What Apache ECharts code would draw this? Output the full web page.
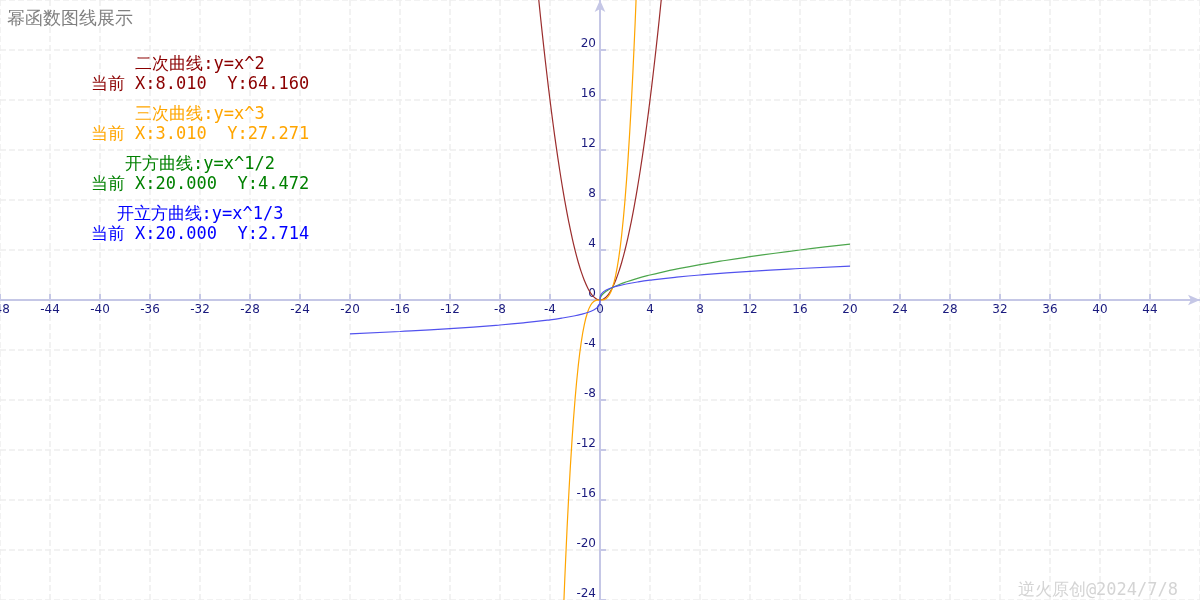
<!DOCTYPE html>
<html>
<head>
<meta charset="utf-8">
<script src="https://cdn.jsdelivr.net/npm/echarts@6/dist/echarts.min.js"></script>
<style>html,body{margin:0;padding:0;background:#fff;}#main{width:1200px;height:600px;}</style>
</head>
<body>
<div id="main"></div>
<script>
// Sample points
var squareX = [-5,-4.75,-4.5,-4.25,-4,-3.75,-3.5,-3.25,-3,-2.75,-2.5,-2.25,-2,-1.75,-1.5,-1.25,-1,-0.75,-0.5,-0.25,0,0.25,0.5,0.75,1,1.25,1.5,1.75,2,2.25,2.5,2.75,3,3.25,3.5,3.75,4,4.25,4.5,4.75,5];
var squareY = [25,22.563,20.25,18.063,16,14.063,12.25,10.563,9,7.563,6.25,5.063,4,3.063,2.25,1.563,1,0.563,0.25,0.063,0,0.063,0.25,0.563,1,1.563,2.25,3.063,4,5.063,6.25,7.563,9,10.563,12.25,14.063,16,18.063,20.25,22.563,25];

var cubeX = [-3,-2.875,-2.75,-2.5,-2.25,-2,-1.75,-1.5,-1.25,-1,-0.75,-0.5,-0.25,0,0.25,0.5,0.75,1,1.25,1.5,1.75,2,2.25,2.5,2.75,2.875,3];
var cubeY = [-27,-23.764,-20.797,-15.625,-11.391,-8,-5.359,-3.375,-1.953,-1,-0.422,-0.125,-0.016,0,0.016,0.125,0.422,1,1.953,3.375,5.359,8,11.391,15.625,20.797,23.764,27];

var sqrtX = [0,0.02,0.0625,0.125,0.25,0.5,0.75,1,1.5,2,3,4,5,6,8,10,12,14,16,18,20];
var sqrtY = [0,0.141,0.25,0.354,0.5,0.707,0.866,1,1.225,1.414,1.732,2,2.236,2.449,2.828,3.162,3.464,3.742,4,4.243,4.472];

var cbrtX = [-20,-16,-12,-8,-6,-4,-3,-2,-1.5,-1,-0.5,-0.25,-0.1,-0.03,-0.005,0,0.005,0.03,0.1,0.25,0.5,1,1.5,2,3,4,6,8,12,16,20];
var cbrtY = [-2.714,-2.52,-2.289,-2,-1.817,-1.587,-1.442,-1.26,-1.145,-1,-0.794,-0.63,-0.464,-0.311,-0.171,0,0.171,0.311,0.464,0.63,0.794,1,1.145,1.26,1.442,1.587,1.817,2,2.289,2.52,2.714];

var chartTitle = '幂函数图线展示';
var curveNames = ['二次曲线:y=x^2','三次曲线:y=x^3','开方曲线:y=x^1/2','开立方曲线:y=x^1/3'];
var curveInfo = ['当前 X:8.010  Y:64.160','当前 X:3.010  Y:27.271','当前 X:20.000  Y:4.472','当前 X:20.000  Y:2.714'];
var curveColors = ['#8b0000','#ffa500','#008000','#0000ff'];
var lineColors = ['#9b2d2d','#ffa500','#4ca64c','#5252ee'];
var watermark = '逆火原创@2024/7/8';

function pairs(xs, ys){ return xs.map(function(x,i){ return [x, ys[i]]; }); }

var chart = echarts.init(document.getElementById('main'));
var graphics = [];
for (var i = 0; i < curveNames.length; i++) {
  graphics.push({type:'text', silent:true, z:100, x: 200, y: 65 + i*50,
    style:{text: curveNames[i], fill: curveColors[i], font: '17px monospace', textAlign:'center', textVerticalAlign:'middle'}});
  graphics.push({type:'text', silent:true, z:100, x: 200, y: 85 + i*50,
    style:{text: curveInfo[i], fill: curveColors[i], font: '17px monospace', textAlign:'center', textVerticalAlign:'middle'}});
}
graphics.push({type:'text', silent:true, z:100, x: 1178, y: 591,
  style:{text: watermark, fill:'#d4d4d4', font:'17px monospace', textAlign:'right', textVerticalAlign:'middle'}});

function axisBase(){
  return {
    type:'value',
    interval: 4,
    axisLine:{show:true, onZero:false, symbol:['none','arrow'], symbolSize:[8,12], lineStyle:{color:'#c5c7e6', width:2}},
    axisTick:{show:true, inside:true, length:6, lineStyle:{color:'#c5c7e6', width:2}},
    splitLine:{show:true, lineStyle:{color:'#eeeeee', type:'dashed', width:1.5}},
    axisLabel:{color:'#1a1a7e', fontSize:12, fontFamily:'Verdana, DejaVu Sans, sans-serif', margin:4, showMaxLabel:false}
  };
}
var xAx = axisBase(); xAx.min = -48; xAx.max = 48; xAx.position = 'bottom'; xAx.offset = -300;
var yAx = axisBase(); yAx.min = -24; yAx.max = 24; yAx.position = 'left'; yAx.offset = -600;
yAx.axisLabel.verticalAlign = 'bottom';

var option = {
  animation:false,
  backgroundColor:'#ffffff',
  title:{text: chartTitle, left: 2, top: 5, textStyle:{color:'#808080', fontSize:18, fontWeight:'normal'}},
  grid:{left:0, right:0, top:0, bottom:0, containLabel:false, outerBoundsMode:'none'},
  xAxis: xAx,
  yAxis: yAx,
  series:[
    {type:'line', data: pairs(squareX, squareY), showSymbol:false, smooth:true, lineStyle:{color:lineColors[0], width:1.2}},
    {type:'line', data: pairs(cubeX, cubeY), showSymbol:false, smooth:true, lineStyle:{color:lineColors[1], width:1.2}},
    {type:'line', data: pairs(sqrtX, sqrtY), showSymbol:false, smooth:true, lineStyle:{color:lineColors[2], width:1.2}},
    {type:'line', data: pairs(cbrtX, cbrtY), showSymbol:false, smooth:true, lineStyle:{color:lineColors[3], width:1.2}}
  ],
  graphic: graphics
};
chart.setOption(option);
</script>
</body>
</html>
